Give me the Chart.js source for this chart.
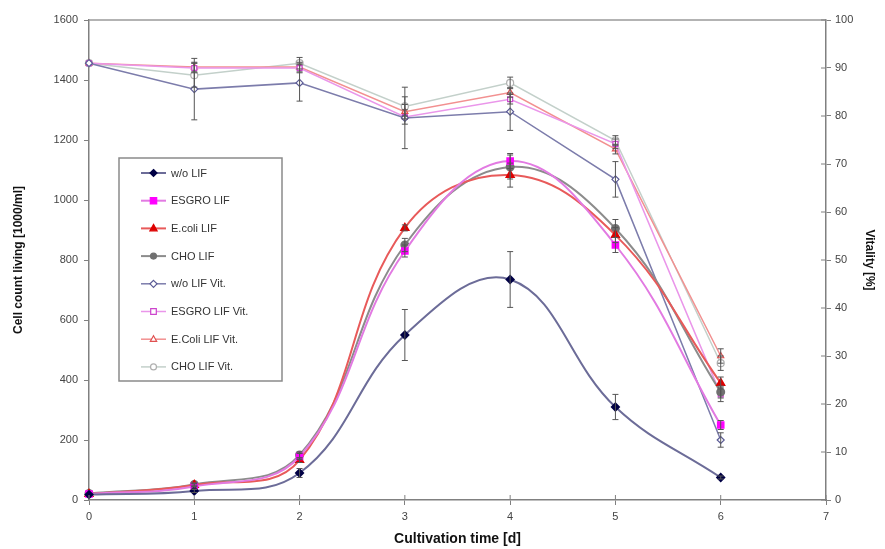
<!DOCTYPE html>
<html><head><meta charset="utf-8">
<script src="https://cdn.jsdelivr.net/npm/chart.js@4/dist/chart.umd.min.js"></script>
<style>html,body{margin:0;padding:0;background:#fff}#wrap{width:885px;height:549px;position:relative}</style>
</head><body><div id="wrap"><canvas id="c" width="885" height="549"></canvas></div>
<script>
// ---- data ----
const days = [0, 1, 2, 3, 4, 5, 6];
const xTickLabels = [0, 1, 2, 3, 4, 5, 6, 7];
const cellTickLabels = [0, 200, 400, 600, 800, 1000, 1200, 1400, 1600];
const vitTickLabels = [0, 10, 20, 30, 40, 50, 60, 70, 80, 90, 100];

const woLIF      = [18, 30, 90, 550, 735, 310, 75];
const woLIFErr   = [0, 5, 15, 85, 93, 42, 5];
const esgroLIF   = [20, 45, 145, 830, 1130, 850, 250];
const esgroLIFErr= [0, 5, 10, 20, 25, 25, 15];
const ecoliLIF   = [20, 50, 133, 907, 1083, 883, 390];
const ecoliLIFErr= [0, 5, 8, 10, 40, 25, 20];
const choLIF     = [22, 52, 150, 850, 1110, 905, 360];
const choLIFErr  = [0, 5, 10, 22, 40, 30, 20];

const woVit      = [91, 85.6, 86.9, 79.6, 80.9, 66.8, 12.5];
const woVitErr   = [0, 6.4, 3.8, 6.4, 3.9, 3.7, 1.5];
const esgroVit   = [91, 90, 90, 79.8, 83.5, 74.2, 22];
const esgroVitErr= [0, 1, 1, 1.5, 1, 1, 1.5];
const ecoliVit   = [91, 90.2, 90.2, 80.9, 84.9, 73.1, 30];
const ecoliVitErr= [0, 1, 1, 1.5, 1, 1, 1.5];
const choVit     = [91, 88.5, 91, 82, 86.9, 74.9, 28.5];
const choVitErr  = [0, 2.5, 1.2, 2, 1.2, 1, 1.5];

const labels = ['w/o LIF','ESGRO LIF','E.coli LIF','CHO LIF','w/o LIF Vit.','ESGRO LIF Vit.','E.Coli LIF Vit.','CHO LIF Vit.'];

const pts = arr => arr.map((v, i) => ({x: days[i], y: v}));

function cellDs(label, data, err, line, mark, style, r) {
  return {label, data: pts(data), errors: err, yAxisID: 'y', borderColor: line, borderWidth: 2,
    backgroundColor: mark, pointBackgroundColor: mark, pointBorderColor: mark, pointStyle: style,
    pointRadius: r, tension: 0.4, fill: false, clip: false, order: 1};
}
function vitDs(label, data, err, line, mark, style, r) {
  return {label, data: pts(data), errors: err, yAxisID: 'y2', borderColor: line, borderWidth: 1.5,
    backgroundColor: '#fff', pointBackgroundColor: '#fff', pointBorderColor: mark, pointBorderWidth: 1.2,
    pointStyle: style, pointRadius: r, tension: 0, fill: false, clip: false, order: 2};
}

const datasets = [
  cellDs(labels[0], woLIF, woLIFErr, '#6c6c98', '#000045', 'rectRot', 3.5),
  cellDs(labels[1], esgroLIF, esgroLIFErr, '#e27ae2', '#ff00ff', 'rect', 4),
  cellDs(labels[2], ecoliLIF, ecoliLIFErr, '#e85a5a', '#dd0000', 'triangle', 4),
  cellDs(labels[3], choLIF, choLIFErr, '#8c8c8c', '#707070', 'circle', 3.5),
  vitDs(labels[4], woVit, woVitErr, '#7c7cab', '#5a5a95', 'rectRot', 3.5),
  vitDs(labels[5], esgroVit, esgroVitErr, '#ea96ea', '#cc44cc', 'rect', 3.5),
  vitDs(labels[6], ecoliVit, ecoliVitErr, '#f29090', '#e05050', 'triangle', 3.5),
  vitDs(labels[7], choVit, choVitErr, '#c3d0ca', '#b0b0b0', 'circle', 3.5)
];

const errorBars = {
  id: 'errorBars',
  afterDatasetsDraw(chart) {
    const ctx = chart.ctx;
    ctx.save();
    ctx.strokeStyle = '#555';
    ctx.lineWidth = 1;
    chart.data.datasets.forEach((ds, di) => {
      const meta = chart.getDatasetMeta(di);
      const sc = chart.scales[ds.yAxisID];
      ds.data.forEach((p, i) => {
        const e = ds.errors ? ds.errors[i] : 0;
        if (!e) return;
        const x = meta.data[i].x;
        const y1 = sc.getPixelForValue(p.y + e), y2 = sc.getPixelForValue(p.y - e);
        ctx.beginPath();
        ctx.moveTo(x, y1); ctx.lineTo(x, y2);
        ctx.moveTo(x - 3, y1); ctx.lineTo(x + 3, y1);
        ctx.moveTo(x - 3, y2); ctx.lineTo(x + 3, y2);
        ctx.stroke();
      });
    });
    ctx.restore();
  }
};

function drawMarker(ctx, style, x, y, r, fill, stroke) {
  ctx.beginPath();
  if (style === 'rectRot') { ctx.moveTo(x, y - r); ctx.lineTo(x + r, y); ctx.lineTo(x, y + r); ctx.lineTo(x - r, y); ctx.closePath(); }
  else if (style === 'rect') { ctx.rect(x - r * 0.8, y - r * 0.8, r * 1.6, r * 1.6); }
  else if (style === 'triangle') { ctx.moveTo(x, y - r); ctx.lineTo(x + r * 0.9, y + r * 0.6); ctx.lineTo(x - r * 0.9, y + r * 0.6); ctx.closePath(); }
  else { ctx.arc(x, y, r * 0.85, 0, Math.PI * 2); }
  ctx.fillStyle = fill; ctx.fill();
  ctx.strokeStyle = stroke; ctx.lineWidth = 1.2; ctx.stroke();
}

const frame = {
  id: 'frame',
  afterDraw(chart) {
    const ctx = chart.ctx, a = chart.chartArea;
    ctx.save();
    ctx.strokeStyle = '#9a9a9a'; ctx.lineWidth = 1.5;
    ctx.beginPath(); ctx.moveTo(a.left, a.top); ctx.lineTo(a.right, a.top); ctx.stroke();
    ctx.strokeStyle = '#808080'; ctx.lineWidth = 1;
    chart.scales.x.ticks.forEach(t => {
      const x = chart.scales.x.getPixelForValue(t.value);
      ctx.beginPath(); ctx.moveTo(x, a.bottom); ctx.lineTo(x, a.bottom - 5); ctx.stroke();
    });
    chart.scales.y2.ticks.forEach(t => {
      const y = chart.scales.y2.getPixelForValue(t.value);
      ctx.beginPath(); ctx.moveTo(a.right, y); ctx.lineTo(a.right - 5, y); ctx.stroke();
    });
    const lx = 119, ly = 158, lw = 163, lh = 223;
    ctx.strokeStyle = '#8a8a8a'; ctx.lineWidth = 1.5;
    ctx.strokeRect(lx, ly, lw, lh);
    ctx.font = '11px "Liberation Sans", Arial, sans-serif';
    ctx.textBaseline = 'middle';
    chart.data.datasets.forEach((ds, i) => {
      const y = 173 + i * 27.7;
      ctx.strokeStyle = ds.borderColor; ctx.lineWidth = ds.borderWidth;
      ctx.beginPath(); ctx.moveTo(141, y); ctx.lineTo(166, y); ctx.stroke();
      drawMarker(ctx, ds.pointStyle, 153.5, y, ds.pointRadius, ds.pointBackgroundColor, ds.pointBorderColor);
      ctx.fillStyle = '#333';
      ctx.fillText(ds.label, 171, y + 0.5);
    });
    ctx.restore();
  }
};

const tickFont = {family: '"Liberation Sans", Arial, sans-serif', size: 11};
const titleFont = {family: '"Liberation Sans", Arial, sans-serif', size: 12, weight: 'bold'};
const plain = v => String(v);

new Chart(document.getElementById('c'), {
  type: 'line',
  data: {datasets},
  options: {
    responsive: false,
    animation: false,
    layout: {padding: {top: 20, left: 0, right: 0, bottom: 0}},
    plugins: {legend: {display: false}, tooltip: {enabled: false}},
    scales: {
      x: {
        type: 'linear', position: 'bottom',
        min: xTickLabels[0], max: xTickLabels[xTickLabels.length - 1],
        afterBuildTicks: s => { s.ticks = xTickLabels.map(v => ({value: v})); },
        afterFit: s => { s.height = 49; },
        ticks: {font: tickFont, color: '#444', padding: 5, maxRotation: 0, autoSkip: false, callback: plain},
        grid: {drawOnChartArea: false, drawTicks: true, tickLength: 5, color: '#808080'},
        border: {color: '#808080', width: 1.5},
        title: {display: true, text: 'Cultivation time [d]', font: {family: '"Liberation Sans", Arial, sans-serif', size: 14, weight: 'bold'}, color: '#111', padding: {top: 0, bottom: 1}}
      },
      y: {
        type: 'linear', position: 'left',
        min: cellTickLabels[0], max: cellTickLabels[cellTickLabels.length - 1],
        afterBuildTicks: s => { s.ticks = cellTickLabels.map(v => ({value: v})); },
        afterFit: s => { s.width = 89; },
        ticks: {font: tickFont, color: '#444', padding: 6, callback: plain},
        grid: {drawOnChartArea: false, drawTicks: true, tickLength: 5, color: '#808080'},
        border: {color: '#808080', width: 1.5},
        title: {display: true, text: 'Cell count living [1000/ml]', font: titleFont, color: '#111', padding: {top: 11, bottom: 0}}
      },
      y2: {
        type: 'linear', position: 'right',
        min: vitTickLabels[0], max: vitTickLabels[vitTickLabels.length - 1],
        afterBuildTicks: s => { s.ticks = vitTickLabels.map(v => ({value: v})); },
        afterFit: s => { s.width = 59; },
        ticks: {font: tickFont, color: '#444', padding: 4, callback: plain},
        grid: {drawOnChartArea: false, drawTicks: true, tickLength: 5, color: '#808080'},
        border: {color: '#808080', width: 1.5},
        title: {display: true, text: 'Vitality [%]', font: titleFont, color: '#111', padding: {top: 8, bottom: 0}}
      }
    }
  },
  plugins: [errorBars, frame]
});
</script>
</body></html>
